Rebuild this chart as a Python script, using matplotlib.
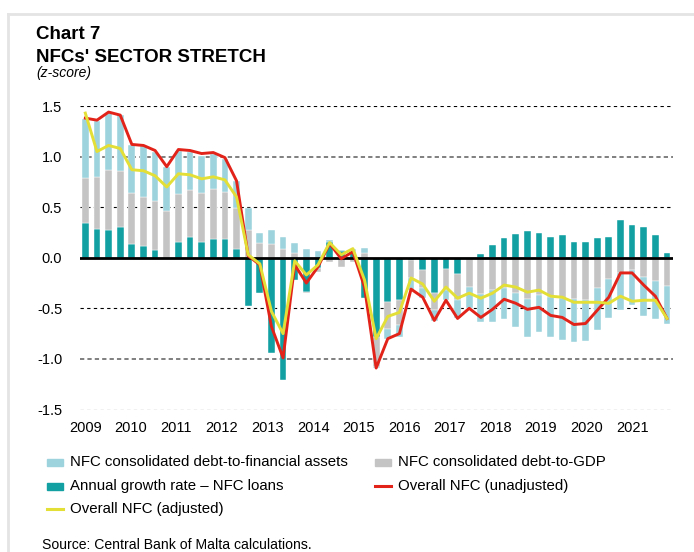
import numpy as np
import matplotlib
matplotlib.use("Agg")
import matplotlib.pyplot as plt
from matplotlib.patches import Rectangle
from matplotlib.lines import Line2D

plt.rcParams['font.family'] = ['Liberation Sans', 'DejaVu Sans']

# ---- data (quarterly, 2009Q1 onwards) ----
years = ['2009', '2010', '2011', '2012', '2013', '2014', '2015',
         '2016', '2017', '2018', '2019', '2020', '2021']

loans_growth = [0.34, 0.28, 0.27, 0.30, 0.14, 0.12, 0.08, 0.00, 0.16, 0.21,
                0.16, 0.19, 0.19, 0.09, -0.48, -0.35, -0.94, -1.21, -0.22, -0.34,
                -0.10, 0.16, 0.07, 0.06, -0.40, -0.78, -0.44, -0.42, -0.02, -0.12,
                -0.35, -0.11, -0.16, 0.00, 0.04, 0.13, 0.20, 0.23, 0.26, 0.24,
                0.21, 0.22, 0.16, 0.16, 0.20, 0.21, 0.37, 0.32, 0.30, 0.22, 0.05]

debt_gdp = [0.45, 0.52, 0.60, 0.56, 0.50, 0.48, 0.48, 0.46, 0.47, 0.46,
            0.48, 0.49, 0.46, 0.40, 0.27, 0.15, 0.14, 0.09, 0.05, -0.01,
            -0.04, -0.04, -0.09, -0.04, 0.05, -0.30, -0.26, -0.24, -0.18, -0.18,
            -0.17, -0.21, -0.26, -0.29, -0.36, -0.32, -0.30, -0.35, -0.41, -0.37,
            -0.39, -0.40, -0.41, -0.42, -0.30, -0.21, -0.15, -0.12, -0.19, -0.23, -0.28]

debt_fin_assets = [0.58, 0.55, 0.56, 0.55, 0.47, 0.50, 0.49, 0.44, 0.43, 0.38,
                   0.37, 0.35, 0.33, 0.27, 0.22, 0.09, 0.13, 0.12, 0.10, 0.09,
                   0.07, 0.02, 0.01, 0.03, 0.05, -0.01, -0.10, -0.12, -0.12, -0.10,
                   -0.11, -0.10, -0.18, -0.21, -0.28, -0.32, -0.31, -0.33, -0.37, -0.36,
                   -0.39, -0.41, -0.42, -0.40, -0.41, -0.39, -0.37, -0.35, -0.39, -0.38, -0.37]

overall_unadj = [1.38, 1.36, 1.44, 1.41, 1.12, 1.11, 1.06, 0.90, 1.07, 1.06,
                 1.03, 1.04, 0.99, 0.76, 0.02, -0.07, -0.68, -0.99, -0.07, -0.25,
                 -0.09, 0.14, -0.01, 0.06, -0.29, -1.09, -0.80, -0.75, -0.31, -0.39,
                 -0.62, -0.42, -0.60, -0.50, -0.59, -0.51, -0.41, -0.45, -0.51, -0.49,
                 -0.57, -0.59, -0.66, -0.65, -0.52, -0.39, -0.15, -0.15, -0.27, -0.38, -0.60]

overall_adj = [1.43, 1.05, 1.11, 1.08, 0.87, 0.86, 0.81, 0.70, 0.83, 0.82,
               0.78, 0.80, 0.77, 0.60, 0.03, -0.06, -0.53, -0.75, -0.03, -0.17,
               -0.07, 0.15, 0.03, 0.09, -0.22, -0.80, -0.58, -0.54, -0.20, -0.26,
               -0.43, -0.29, -0.40, -0.35, -0.40, -0.35, -0.27, -0.29, -0.34, -0.32,
               -0.38, -0.39, -0.44, -0.44, -0.44, -0.45, -0.38, -0.43, -0.42, -0.42, -0.60]

y_ticks = [1.5, 1.0, 0.5, 0.0, -0.5, -1.0, -1.5]

# ---- styling ----
C_LB = '#9dd3dd'
C_GR = '#c4c4c4'
C_TE = '#12a0a3'
C_RED = '#e2231a'
C_YEL = '#e3df36'

W, H = 694, 552
fig = plt.figure(figsize=(W / 100, H / 100), dpi=100)

def fx(px):
    return px / W

def fy(py):
    return 1 - py / H

n = len(loans_growth)
x = np.arange(n)
ax_left, ax_right = 79.5, 672.8
ax_top, ax_bot = 106.0, 409.5
ax = fig.add_axes([fx(ax_left), fy(ax_bot), (ax_right - ax_left) / W, (ax_bot - ax_top) / H])
ax.set_xlim(-0.5, n - 0.5)
ax.set_ylim(-1.5, 1.5)

# gridlines
for yv in [1.5, 0.5, -0.5, -1.5]:
    ax.axhline(yv, color='black', lw=0.8, ls=(0, (3, 3)), zorder=0)
for yv in [1.0, -1.0]:
    ax.axhline(yv, color='#7f7f7f', lw=1.4, ls=(0, (2.2, 1.6)), zorder=0)

# stacked bars (positives up, negatives down)
pos_b = np.zeros(n)
neg_b = np.zeros(n)
bw = 0.58
for vals, col in [(loans_growth, C_TE), (debt_gdp, C_GR), (debt_fin_assets, C_LB)]:
    v = np.array(vals)
    bottom = np.where(v >= 0, pos_b, neg_b)
    ax.bar(x, v, width=bw, bottom=bottom, color=col, edgecolor='white', linewidth=0.3, zorder=2)
    pos_b = pos_b + np.where(v >= 0, v, 0)
    neg_b = neg_b + np.where(v < 0, v, 0)

ax.axhline(0, color='black', lw=2.0, zorder=3)

ax.plot(x, overall_unadj, color=C_RED, lw=2.1, zorder=4, solid_joinstyle='round')
ax.plot(x, overall_adj, color=C_YEL, lw=2.1, zorder=5, solid_joinstyle='round')

for s in ax.spines.values():
    s.set_visible(False)
ax.set_yticks(y_ticks)
ax.set_yticklabels([f'{v:.1f}' for v in y_ticks])
# year labels spaced evenly across the reference's label span
label_pos = np.linspace(0, n - 4, len(years))
ax.set_xticks(label_pos)
ax.set_xticklabels(years)
ax.tick_params(axis='both', length=0, labelsize=10.5, colors='black')
ax.tick_params(axis='y', pad=12.5)
ax.tick_params(axis='x', pad=8)

# frame
fig.add_artist(Line2D([fx(8), fx(8)], [fy(14), 0], color='#e4e4e4', lw=2))
fig.add_artist(Line2D([fx(8), 1], [fy(14), fy(14)], color='#e4e4e4', lw=2))

# titles
fig.text(fx(36), fy(39), 'Chart 7', fontsize=13.5, fontweight='bold', va='baseline')
fig.text(fx(36), fy(62), "NFCs' SECTOR STRETCH", fontsize=13.5, fontweight='bold', va='baseline')
fig.text(fx(36), fy(77), '(z-score)', fontsize=10, style='italic', va='baseline')

# legend (manual)
entries = [
    ('patch', C_LB, 'NFC consolidated debt-to-financial assets', 47, 462),
    ('patch', C_GR, 'NFC consolidated debt-to-GDP', 375, 462),
    ('patch', C_TE, 'Annual growth rate \u2013 NFC loans', 47, 486),
    ('line', C_RED, 'Overall NFC (unadjusted)', 375, 486),
    ('line', C_YEL, 'Overall NFC (adjusted)', 47, 509),
]
for kind, col, label, px, py in entries:
    if kind == 'patch':
        fig.add_artist(Rectangle((fx(px), fy(py + 3.5)), 16 / W, 7 / H, color=col,
                                 transform=fig.transFigure))
    else:
        fig.add_artist(Line2D([fx(px), fx(px + 16)], [fy(py), fy(py)], color=col, lw=2.2))
    fig.text(fx(px + 23), fy(py), label, fontsize=10.8, va='center')

fig.text(fx(42), fy(545), 'Source: Central Bank of Malta calculations.', fontsize=10.1, va='center')

fig.savefig('out.png', dpi=100)
